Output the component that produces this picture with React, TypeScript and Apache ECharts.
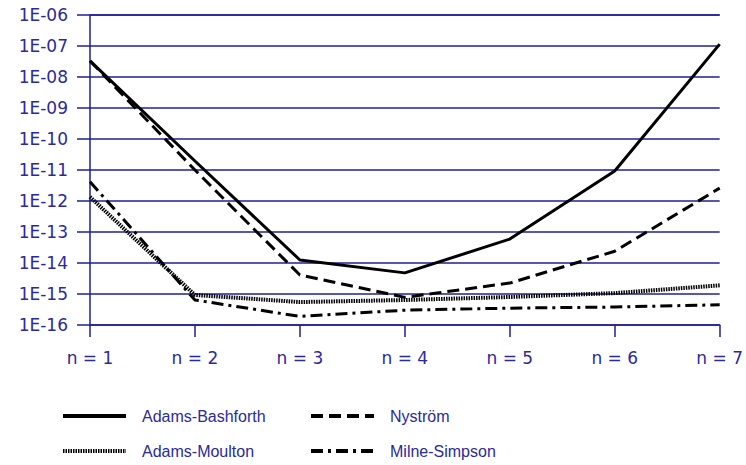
import React, { useEffect, useRef } from "react";
import * as echarts from "echarts";

const categories = ["n = 1", "n = 2", "n = 3", "n = 4", "n = 5", "n = 6", "n = 7"];
const adamsBashforth = [3.3e-8, 1.95e-11, 1.25e-14, 4.8e-15, 5.9e-14, 9.3e-12, 1.15e-7];
const nystrom = [3.3e-8, 1.0e-11, 4.1e-15, 7.8e-16, 2.25e-15, 2.4e-14, 2.6e-12];
const adamsMoulton = [1.35e-12, 9.3e-16, 5.5e-16, 6.4e-16, 8.0e-16, 1.07e-15, 1.9e-15];
const milneSimpson = [4.2e-12, 6.4e-16, 1.9e-16, 3.0e-16, 3.5e-16, 3.8e-16, 4.5e-16];

const NAVY = "#1f1f99";
const TEXT = "#2a2aa0";

export default function App() {
  const ref = useRef<HTMLDivElement>(null);
  useEffect(() => {
    if (!ref.current) return;
    const chart = echarts.init(ref.current, null, { renderer: "svg" });
    const legendBase = {
      orient: "horizontal",
      itemWidth: 63,
      itemHeight: 14,
      itemStyle: { opacity: 0 },
      lineStyle: { width: 4 },
      textStyle: {
        fontFamily: "Liberation Sans, Arial",
        fontSize: 16,
        color: TEXT,
        padding: [0, 0, 0, 11],
      },
      selectedMode: false,
    };
    chart.setOption({
      animation: false,
      backgroundColor: "#ffffff",
      grid: { left: 90, right: 26, top: 15, bottom: 140 },
      legend: [
        { ...legendBase, left: 56, top: 403, data: ["Adams-Bashforth"] },
        { ...legendBase, left: 304, top: 403, data: ["Nyström"] },
        { ...legendBase, left: 56, top: 438, data: ["Adams-Moulton"] },
        { ...legendBase, left: 304, top: 438, data: ["Milne-Simpson"] },
      ],
      xAxis: {
        type: "category",
        data: categories,
        boundaryGap: false,
        axisLine: { show: true, lineStyle: { color: NAVY, width: 1.5 } },
        axisTick: { show: true, length: 12, alignWithLabel: true, lineStyle: { color: NAVY, width: 1.5 } },
        axisLabel: {
          margin: 24,
          fontFamily: "DejaVu Sans",
          fontSize: 17,
          color: TEXT,
        },
        splitLine: { show: false },
      },
      yAxis: {
        type: "log",
        logBase: 10,
        min: 1e-16,
        max: 1e-6,
        interval: 1,
        axisLine: { show: true, lineStyle: { color: NAVY, width: 1.5 } },
        axisTick: { show: true, length: 13, lineStyle: { color: NAVY, width: 1.5 } },
        axisLabel: {
          margin: 22,
          fontFamily: "DejaVu Sans",
          fontSize: 17,
          color: TEXT,
          formatter: (v: number) => {
            const e = Math.round(Math.log10(v));
            return "1E-" + String(-e).padStart(2, "0");
          },
        },
        splitLine: { show: true, lineStyle: { color: NAVY, width: 1.5 } },
      },
      series: [
        {
          name: "Adams-Bashforth",
          type: "line",
          data: adamsBashforth,
          symbol: "none",
          lineStyle: { color: "#000", width: 3, type: "solid" },
          itemStyle: { color: "#000" },
          z: 5,
        },
        {
          name: "Nyström",
          type: "line",
          data: nystrom,
          symbol: "none",
          lineStyle: { color: "#000", width: 3, type: [12, 6] },
          itemStyle: { color: "#000" },
          z: 4,
        },
        {
          name: "Adams-Moulton",
          type: "line",
          data: adamsMoulton,
          symbol: "none",
          lineStyle: { color: "#000", width: 4, type: [1.5, 1] },
          itemStyle: { color: "#000" },
          z: 3,
        },
        {
          name: "Milne-Simpson",
          type: "line",
          data: milneSimpson,
          symbol: "none",
          lineStyle: { color: "#000", width: 3, type: [12, 5, 3, 5] },
          itemStyle: { color: "#000" },
          z: 2,
        },
      ],
    });
    return () => chart.dispose();
  }, []);
  return <div ref={ref} style={{ width: 746, height: 465, position: "absolute", left: 0, top: 0 }} />;
}
